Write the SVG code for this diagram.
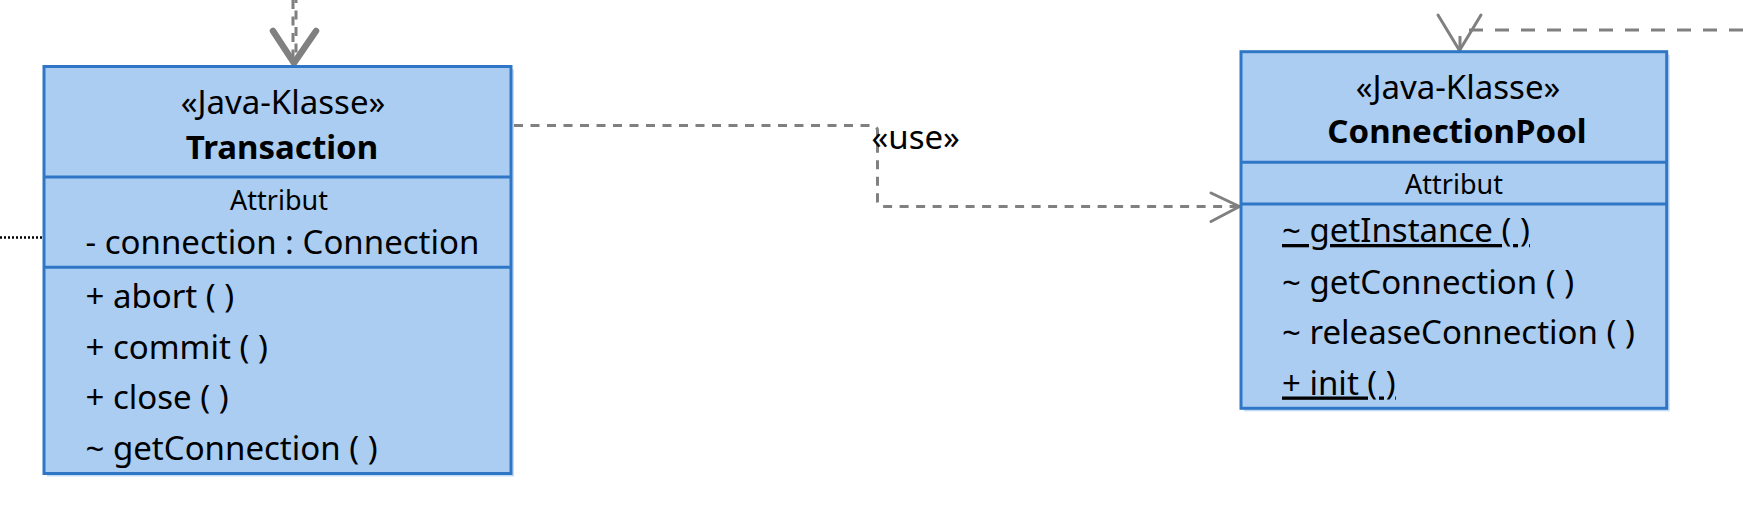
<svg xmlns="http://www.w3.org/2000/svg" width="1743" height="513" viewBox="0 0 1743 513">
<defs>
<style>
.box{fill:#abcdf2;stroke:#2f77c6;stroke-width:3}
.shadow{fill:#c4dcf5}
.sep{stroke:#2f77c6;stroke-width:3}
text{font-family:"Noto Sans","Open Sans","DejaVu Sans",sans-serif;fill:#000}
.st{font-size:33px;text-anchor:middle}
.nm{font-size:33px;font-weight:bold;text-anchor:middle}
.at{font-size:27px;text-anchor:middle}
.mb{font-size:33px}
.ul{text-decoration:underline}
.dep{fill:none;stroke:#808080;stroke-width:3;stroke-dasharray:9 7.5}
.dep2{fill:none;stroke:#808080;stroke-width:3;stroke-dasharray:14 12}
.head{fill:none;stroke:#808080;stroke-width:3;stroke-linecap:round;stroke-linejoin:round}
</style>
</defs>
<rect width="1743" height="513" fill="#ffffff"/>
<g id="connectors">
<path class="dep" d="M514,125.5 H872 Q877.5,125.5 877.5,131 V201 Q877.5,206.5 883,206.5 H1237"/>
<path class="head" d="M1211,193 L1239.5,206.5 L1211,221.5"/>
<path class="dep2" d="M1743,30 H1468 Q1460,30 1460,38 V50"/>
<path class="head" d="M1438,15 L1459.5,50.5 L1481,15"/>
<path class="dep" d="M293,0 V62"/>
<path class="dep" d="M296,-6 V62"/>
<path class="head" d="M273,31 L294,63 L316,31" style="stroke-width:6.5"/>
<path d="M0,237.5 H42" fill="none" stroke="#000" stroke-width="2.5" stroke-dasharray="2 2"/>
</g>
<g id="Transaction">
<rect class="shadow" x="47" y="69.5" width="467" height="407"/>
<rect class="box" x="44" y="66.5" width="467" height="407"/>
<line class="sep" x1="44" y1="177" x2="511" y2="177"/>
<line class="sep" x1="44" y1="267.3" x2="511" y2="267.3"/>
<text class="st" x="283" y="114.3">«Java-Klasse»</text>
<text class="nm" x="282" y="159.3">Transaction</text>
<text class="at" x="279" y="210">Attribut</text>
<text class="mb" x="85.5" y="254">- connection : Connection</text>
<text class="mb" x="85.5" y="308.3">+ abort ( )</text>
<text class="mb" x="85.5" y="358.8">+ commit ( )</text>
<text class="mb" x="85.5" y="409.3">+ close ( )</text>
<text class="mb" x="85.5" y="460">~ getConnection ( )</text>
</g>
<g id="ConnectionPool">
<rect class="shadow" x="1244" y="54.7" width="425.7" height="356.6"/>
<rect class="box" x="1241" y="51.7" width="425.7" height="356.6"/>
<line class="sep" x1="1241" y1="162.3" x2="1666.7" y2="162.3"/>
<line class="sep" x1="1241" y1="204" x2="1666.7" y2="204"/>
<text class="st" x="1458" y="99.3">«Java-Klasse»</text>
<text class="nm" x="1457" y="143.3">ConnectionPool</text>
<text class="at" x="1454" y="194.3">Attribut</text>
<text class="mb ul" x="1282" y="242">~ getInstance ( )</text>
<text class="mb" x="1282" y="293.5">~ getConnection ( )</text>
<text class="mb" x="1282" y="344">~ releaseConnection ( )</text>
<text class="mb ul" x="1282" y="394.5">+ init ( )</text>
</g>
<g id="labels">
<text x="871.5" y="149" font-size="33px">«use»</text>
</g>
</svg>
